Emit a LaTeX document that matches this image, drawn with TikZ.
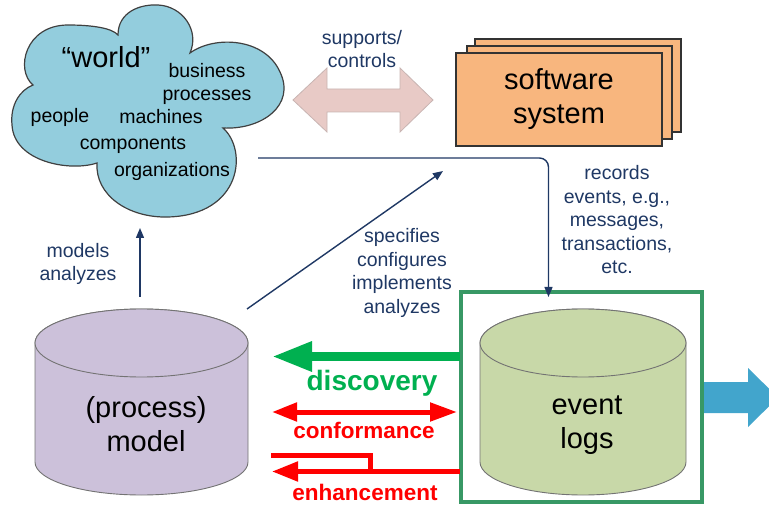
\documentclass[tikz,border=0pt]{standalone}
\usepackage{fontspec}
\setmainfont{Liberation Sans}
\usetikzlibrary{arrows.meta}
\definecolor{navy}{RGB}{31,56,100}
\definecolor{cloudblue}{RGB}{147,205,221}
\definecolor{swor}{RGB}{248,182,126}
\definecolor{pinkarr}{RGB}{232,202,198}
\definecolor{pinkedge}{RGB}{200,180,178}
\definecolor{lav}{RGB}{204,193,218}
\definecolor{olive}{RGB}{200,216,168}
\definecolor{framegreen}{RGB}{56,152,101}
\definecolor{disc}{RGB}{0,176,80}
\definecolor{bluearr}{RGB}{66,165,204}
\definecolor{redc}{RGB}{255,0,0}
\begin{document}
\begin{tikzpicture}[x=1pt,y=-1pt,
  lbl/.style={text=navy, font=\fontsize{19.5}{23.5}\selectfont, align=center, inner sep=0pt},
  cw/.style={font=\fontsize{19.5}{23.5}\selectfont, inner sep=0pt, anchor=base},
  bigtxt/.style={font=\fontsize{29}{34}\selectfont, align=center, inner sep=0pt},
  conn/.style={draw=navy, line width=1.4pt, -{Triangle[length=10pt,width=8pt]}},
  swbox/.style={draw=black!80, line width=1.2pt, fill=swor, minimum width=206pt, minimum height=93pt, inner sep=0pt},
  cyl/.style={draw=black!55, line width=0.9pt},
  redarr/.style={draw=redc, line width=5pt},
]
\useasboundingbox (0,0) rectangle (769,505);
\clip (0,0) rectangle (769,505);

% ---------- cloud ----------
\path[draw=black!75, line width=1.2pt, fill=cloudblue] (33,85)
 .. controls (15,70) and (25,25) .. (68,25)
 .. controls (92,25) and (112,28) .. (118,35)
 .. controls (118,12) and (140,4) .. (158,5)
 .. controls (182,6) and (200,30) .. (190,53)
 .. controls (215,35) and (265,38) .. (280,72)
 .. controls (296,105) and (262,130) .. (223,128)
 .. controls (248,150) and (242,215) .. (168,217)
 .. controls (128,218) and (95,195) .. (97,163)
 .. controls (70,172) and (14,162) .. (12,125)
 .. controls (10,105) and (20,90) .. (33,85) -- cycle;
\node[anchor=base, inner sep=0pt, font=\fontsize{29}{34}\selectfont] (world) at (106,68) {“world”};
\node[cw] (business) at (207,78) {business};
\node[cw] (processes) at (207,101) {processes};
\node[cw] (people) at (60,123) {people};
\node[cw] (machines) at (161,124) {machines};
\node[cw] (components) at (133,150) {components};
\node[cw] (organizations) at (172,177) {organizations};

% ---------- supports / controls ----------
\path[fill=pinkarr, draw=pinkedge, line width=0.8pt]
 (293,100) -- (327,68) -- (327,89) -- (400,89) -- (400,68) -- (433,100)
 -- (400,132) -- (400,112) -- (327,112) -- (327,132) -- cycle;
\node[lbl] (supports) at (362,49) {supports/\\controls};

% ---------- software system ----------
\node[swbox] (sw3) at (578,85.5) {};
\node[swbox, minimum width=205pt] (sw2) at (569.5,92.5) {};
\node[swbox, bigtxt] (sw1) at (559,99.5) {software\\system};

% ---------- process model cylinder ----------
\path[cyl, fill=lav] (35,343) -- (35,462)
  arc[start angle=180, end angle=360, x radius=106.5pt, y radius=33pt]
  -- (248,343)
  arc[start angle=0, end angle=180, x radius=106.5pt, y radius=34pt] -- cycle;
\path[cyl, fill=lav] (141.5,343) ellipse[x radius=106.5pt, y radius=34pt];
\node[bigtxt] (model) at (146,424) {(process)\\model};

% ---------- event logs cylinder ----------
\path[cyl, fill=olive] (480,343) -- (480,462)
  arc[start angle=180, end angle=360, x radius=103pt, y radius=33pt]
  -- (686,343)
  arc[start angle=0, end angle=180, x radius=103pt, y radius=34pt] -- cycle;
\path[cyl, fill=olive] (583,343) ellipse[x radius=103pt, y radius=34pt];
\node[bigtxt] (logs) at (587,425) {event\\logs};

% ---------- blue output arrow ----------
\path[fill=bluearr] (702,382) -- (748,382) -- (748,368) -- (778,397.5)
  -- (748,427) -- (748,413) -- (702,413) -- cycle;

% ---------- green frame ----------
\node[draw=framegreen, line width=4pt, minimum width=241pt, minimum height=209.5pt, inner sep=0pt, outer sep=0pt] (frame) at (581,396.75) {};

% ---------- navy connectors ----------
\coordinate (modelTop) at (140,297);
\coordinate (cloudBot) at (140,228);
\draw[conn] (modelTop) -- (cloudBot);
\node[lbl] (modlbl) at (78,264) {models\\analyzes};

\coordinate (diagStart) at (247,309);
\coordinate (diagEnd) at (443,171);
\draw[conn] (diagStart) -- (diagEnd);
\node[lbl] (speclbl) at (402,273) {specifies\\configures\\implements\\analyzes};

\coordinate (recStart) at (258,158);
\coordinate (recCorner) at (548.5,158);
\coordinate (logsTop) at (548.5,297);
\draw[conn, rounded corners=9pt] (recStart) -- (recCorner) -- (logsTop);
\node[lbl] (reclbl) at (617,220) {records\\events, e.g.,\\messages,\\transactions,\\etc.};

% ---------- discovery / conformance / enhancement ----------
\coordinate (dR) at (460,356.5);
\coordinate (dL) at (272,356.5);
\draw[draw=disc, line width=9pt, -{Triangle[length=40pt,width=28pt]}] (dR) -- (dL);
\node[anchor=base, inner sep=0pt, text=disc, font=\bfseries\fontsize{28}{32}\selectfont] (discovery) at (372,390) {discovery};

\coordinate (cR) at (457,412);
\coordinate (cL) at (272,412);
\draw[redarr, {Triangle[length=25pt,width=18pt]}-{Triangle[length=27pt,width=18pt]}] (cL) -- (cR);
\node[anchor=base, inner sep=0pt, text=redc, font=\bfseries\fontsize{22.5}{26}\selectfont] (conformance) at (364,438) {conformance};

\coordinate (eR) at (460,471.5);
\coordinate (eL) at (272,471.5);
\coordinate (eJ) at (370.5,471.5);
\coordinate (eK) at (370.5,455.5);
\coordinate (eE) at (271,455.5);
\draw[redarr, -{Triangle[length=26pt,width=19pt]}] (eR) -- (eL);
\draw[redarr, miter limit=4] (eJ) -- (eK) -- (eE);
\node[anchor=base, inner sep=0pt, text=redc, font=\bfseries\fontsize{22.5}{26}\selectfont] (enhancement) at (365,500) {enhancement};
\end{tikzpicture}
\end{document}
